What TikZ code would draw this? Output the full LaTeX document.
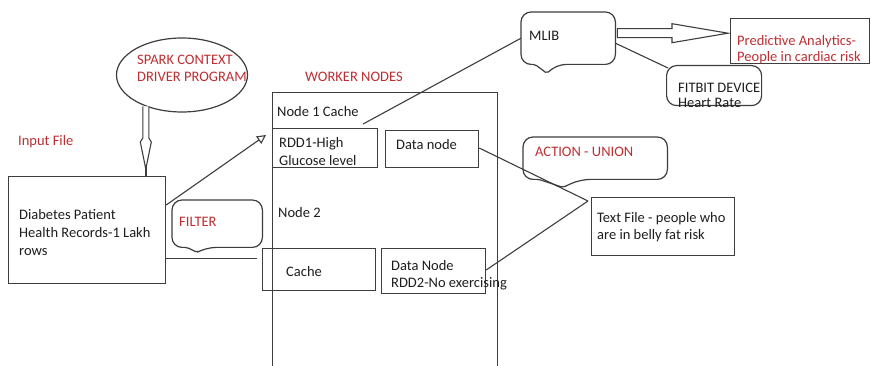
\documentclass[tikz,border=0pt]{standalone}
\usepackage{fontspec}
\setmainfont{Carlito}
\usetikzlibrary{calc,arrows.meta,shapes.geometric}
\definecolor{lred}{RGB}{188,48,52}
\definecolor{lgray}{RGB}{62,62,62}
\definecolor{txt}{RGB}{30,30,30}
\tikzset{
  box/.style={draw=lgray, line width=1.2pt, inner sep=0pt, anchor=north west},
  ghost/.style={inner sep=0pt, anchor=north west},
  lbl/.style={anchor=base west, inner sep=0pt, text=txt, font=\fontsize{14.5}{18}\selectfont},
  rlbl/.style={lbl, text=lred},
  conn/.style={draw=lgray, line width=1.1pt},
  hollow/.style={draw=lgray, line width=1.1pt, fill=white, line join=miter},
  callout/.style={draw=lgray, line width=1.2pt, rounded corners=10pt}
}
\begin{document}
\begin{tikzpicture}[x=1pt,y=-1pt]
\useasboundingbox (0,0) rectangle (871,366);
\clip (0,0) rectangle (871,366);
\fill[white] (0,0) rectangle (871,366);

% ---------- shapes ----------
\node[ellipse, draw=lgray, line width=1.2pt, minimum width=131pt, minimum height=74pt, inner sep=0pt] (spark) at (182,75) {};
\node[box, minimum width=157pt, minimum height=107pt] (diab) at (8,176) {};
\node[box, minimum width=225pt, minimum height=300pt] (work) at (272,92) {};
\node[box, minimum width=105pt, minimum height=39pt] (rdd1) at (272,128) {};
\node[box, minimum width=93pt, minimum height=37pt] (dn1) at (385,130) {};
\node[box, minimum width=113pt, minimum height=42pt] (cache) at (262,248) {};
\node[box, minimum width=104pt, minimum height=45pt] (dn2) at (381,248) {};
\node[box, minimum width=143pt, minimum height=58pt] (tfile) at (591,197) {};
\node[box, minimum width=139pt, minimum height=45pt] (pred) at (730,18) {};
\node[box, rounded corners=10pt, minimum width=95pt, minimum height=40pt] (fit) at (666,65) {};

% callouts
\node[ghost, minimum width=94pt, minimum height=52pt] (mlib) at (521,12) {};
\draw[callout] ($(mlib.south west)+(0,-12)$) -- (mlib.north west) -- (mlib.north east) -- (mlib.south east)
  -- ($(mlib.south west)+(35,0)$) [rounded corners=2pt] -- ($(mlib.south west)+(26,9)$)
  -- ($(mlib.south west)+(14,0)$) [rounded corners=10pt] -- (mlib.south west) -- ($(mlib.south west)+(0,-12)$);

\node[ghost, minimum width=90pt, minimum height=47pt] (filt) at (172,200) {};
\draw[callout] ($(filt.south west)+(0,-12)$) -- (filt.north west) -- (filt.north east) -- (filt.south east)
  -- ($(filt.south west)+(34,0)$) [rounded corners=2pt] -- ($(filt.south west)+(25,5)$)
  -- ($(filt.south west)+(15,0)$) [rounded corners=10pt] -- (filt.south west) -- ($(filt.south west)+(0,-12)$);

\node[ghost, minimum width=144pt, minimum height=42pt] (act) at (523,137) {};
\draw[callout] ($(act.south west)+(0,-12)$) -- (act.north west) -- (act.north east) -- (act.south east)
  -- ($(act.south west)+(57,0)$) [rounded corners=2pt] -- ($(act.south west)+(40,8)$)
  -- ($(act.south west)+(16,0)$) [rounded corners=10pt] -- (act.south west) -- ($(act.south west)+(0,-12)$);

% ---------- connectors ----------
% spark -> diabetes (hollow arrow)
\coordinate (sa) at (spark.221);
\coordinate (sb) at (sa |- diab.north);
\draw[hollow] ($(sa)+(-3,0)$) -- ($(sb)+(-3,-38)$) -- ($(sb)+(-5.5,-34)$)
  -- ($(sb)+(0,-7)$) -- ($(sb)+(5.5,-34)$) -- ($(sb)+(3,-38)$) -- ($(sa)+(3,0)$);
\draw[draw=lgray, line width=2pt] ($(sb)+(0,-9)$) -- (sb);

% diabetes -> rdd1
\coordinate (ra) at ($(rdd1.north west)+(-6,7)$);
\draw[conn, -{Triangle[open, length=9pt, width=9pt]}] ($(diab.north east)+(0,29)$) -- (ra);
% diabetes -> cache
\coordinate (ca) at ($(cache.west)+(-5,-11)$);
\draw[conn] (diab.east |- ca) -- (ca);
% data nodes -> text file
\coordinate (tf) at ($(tfile.north west)+(-3,4)$);
\draw[conn] ($(dn1.north east)+(0,18)$) -- (tf);
\draw[conn] ($(dn2.north east)+(0,22)$) -- (tf);
% rdd1 -> mlib
\draw[conn] ($(rdd1.north)+(38,-4)$) -- (mlib.west);
% mlib -> fitbit
\draw[conn] ($(mlib.east)+(0,5)$) -- ($(fit.north west)+(2,3)$);
% mlib -> predictive (hollow arrow)
\coordinate (ma) at ($(mlib.east)+(2,-5)$);
\coordinate (mb) at (pred.west |- ma);
\draw[hollow] ($(ma)+(0,-4.5)$) -- ($(mb)+(-58,-4.5)$) -- ($(mb)+(-58,-9.5)$)
  -- ($(mb)+(-2,0)$) -- ($(mb)+(-58,9.5)$) -- ($(mb)+(-58,4.5)$) -- ($(ma)+(0,4.5)$) -- cycle;

% ---------- texts ----------
\node[rlbl] (tsp1) at (137,65) {SPARK CONTEXT};
\node[rlbl] (tsp2) at (137,82) {DRIVER PROGRAM};
\node[rlbl] (tin) at (18,146) {Input File};
\node[lbl] (td1) at (19,220) {Diabetes Patient};
\node[lbl] (td2) at (19,238) {Health Records-1 Lakh};
\node[lbl] (td3) at (19,256) {rows};
\node[rlbl] (tfil) at (179,227) {FILTER};
\node[rlbl] (twn) at (305,82) {WORKER NODES};
\node[lbl] (tn1) at (277,117) {Node 1 Cache};
\node[lbl] (tr1) at (279,148) {RDD1-High};
\node[lbl] (tr2) at (279,166) {Glucose level};
\node[lbl] (tdn1) at (396,150) {Data node};
\node[lbl] (tn2) at (278,218) {Node 2};
\node[lbl] (tca) at (286,277) {Cache};
\node[lbl] (tdn2) at (391,271) {Data Node};
\node[lbl] (tdn3) at (391,288) {RDD2-No exercising};
\node[lbl] (tml) at (529,41) {MLIB};
\node[rlbl] (tp1) at (737,46) {Predictive Analytics-};
\node[rlbl] (tp2) at (737,62) {People in cardiac risk};
\node[lbl] (tfb1) at (678,93) {FITBIT DEVICE};
\node[lbl] (tfb2) at (678,108) {Heart Rate};
\node[rlbl] (tau) at (535,157) {ACTION - UNION};
\node[lbl] (ttf1) at (597,223) {Text File - people who};
\node[lbl] (ttf2) at (597,240) {are in belly fat risk};
\end{tikzpicture}
\end{document}
